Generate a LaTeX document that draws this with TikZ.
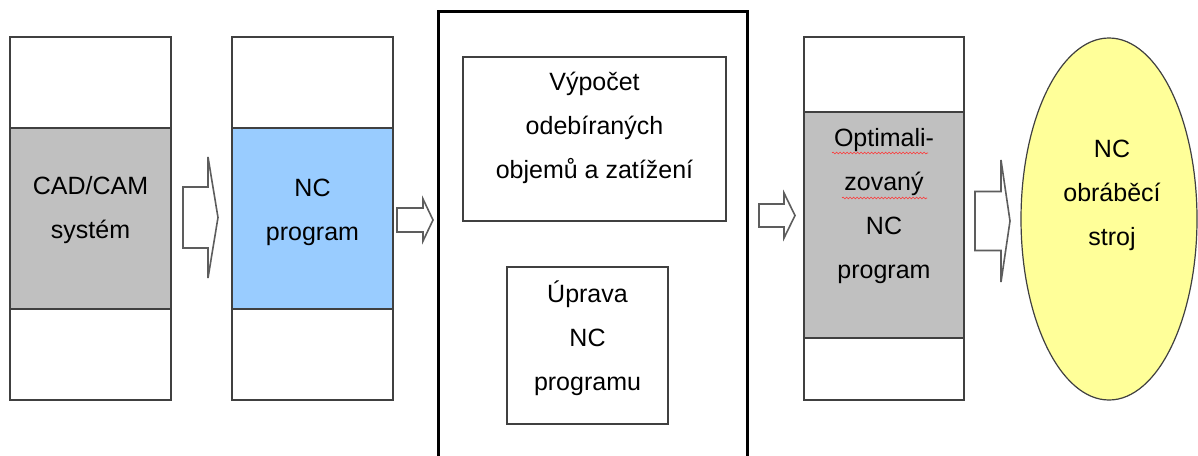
\documentclass[tikz,border=0pt]{standalone}
\usepackage{fontspec}
\setmainfont{Liberation Sans}
\usetikzlibrary{shapes.geometric,decorations.pathmorphing}

\definecolor{boxgray}{RGB}{192,192,192}
\definecolor{ncblue}{RGB}{153,204,255}
\definecolor{machineyellow}{RGB}{255,255,153}
\definecolor{edgegray}{RGB}{64,64,64}

% block arrow: shaft start x, head start x, tip x, mid y, shaft half, head half
\newcommand{\fatarrow}[6]{%
  \draw[arrowline] (#1,#4-#5) -- (#2,#4-#5) -- (#2,#4-#6) -- (#3,#4)
    -- (#2,#4+#6) -- (#2,#4+#5) -- (#1,#4+#5) -- cycle;}

\tikzset{
  col/.style={draw=edgegray,line width=1.2pt},
  arrowline/.style={draw=edgegray!85,line width=1.6pt,line join=miter},
  txt/.style={align=center,inner sep=0pt,font=\fontsize{25}{44}\selectfont},
  machine/.style={ellipse,draw=edgegray,line width=1.2pt,fill=machineyellow,
    inner sep=0pt,minimum width=176pt,minimum height=362pt},
  squiggle/.style={draw=red!80,line width=0.6pt,
    decorate,decoration={snake,amplitude=0.9pt,segment length=3.5pt}}
}

\begin{document}
\begin{tikzpicture}[x=1pt,y=-1pt]
  \useasboundingbox (0,0) rectangle (1198,455);
  \fill[white] (0,0) rectangle (1198,455);

  % CAD/CAM column
  \draw[col] (10,37) rectangle (171,400);
  \draw[col,fill=boxgray] (10,128) rectangle (171,309);
  \node[txt] (cad) at (90.5,210) {CAD/CAM\\systém};

  % NC program column
  \draw[col] (232,37) rectangle (393,400);
  \draw[col,fill=ncblue] (232,128) rectangle (393,309);
  \node[txt] (ncprog) at (312.5,212) {NC\\program};

  % middle frame
  \draw[line width=3pt] (438,11) rectangle (747,470);
  \draw[col] (463,57) rectangle (726,221);
  \node[txt] (vypocet) at (594.5,128) {Výpočet\\odebíraných\\objemů a zatížení};
  \draw[col] (507,267) rectangle (668,424);
  \node[txt] (uprava) at (587.5,338) {Úprava\\NC\\programu};

  % optimised program column
  \draw[col] (804,37) rectangle (964,400);
  \draw[col,fill=boxgray] (804,112) rectangle (964,338);
  \node[txt] (optnc) at (884,206) {Optimali-\\zovaný\\NC\\program};
  \draw[squiggle] (832,153) -- (928,153);
  \draw[squiggle] (842,198) -- (927,198);

  % machine
  \node[machine] (stroj) at (1109,219) {};
  \node[txt] (strojtxt) at (1112,195) {NC\\obráběcí\\stroj};

  % arrows
  \fatarrow{183}{208}{218}{217.5}{30.5}{60.5}
  \fatarrow{397}{423}{433}{220}{12}{21}
  \fatarrow{759}{784}{795}{215.5}{11.5}{22.5}
  \fatarrow{975}{1001}{1010}{221}{29.5}{61}
\end{tikzpicture}
\end{document}
